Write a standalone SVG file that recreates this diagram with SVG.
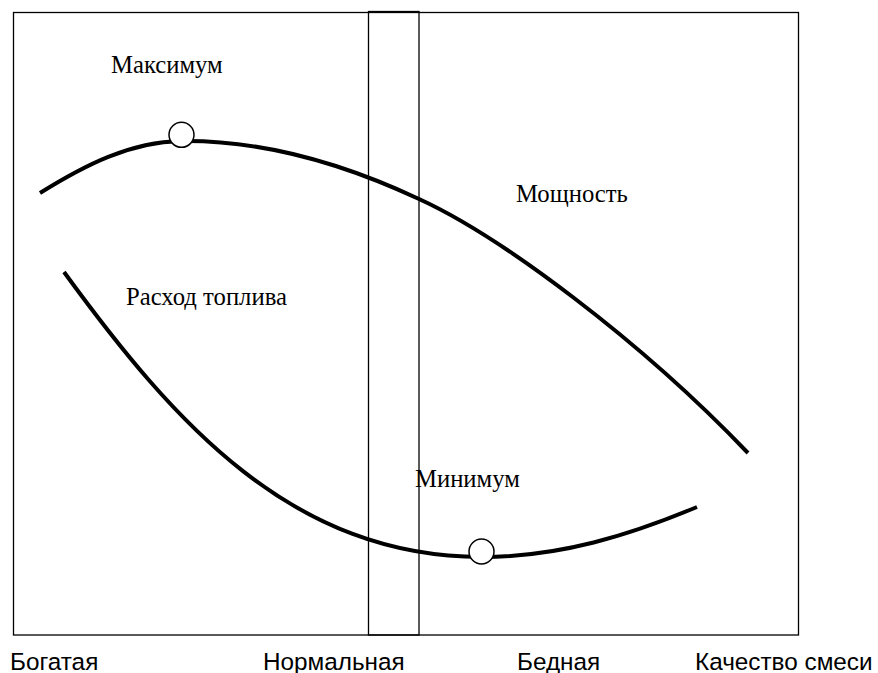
<svg xmlns="http://www.w3.org/2000/svg" width="878" height="673" viewBox="0 0 878 673">
<style>
.frame{fill:none;stroke:#000;stroke-width:1.3}
.curve{fill:none;stroke:#000;stroke-width:4}
.mark{fill:#fff;stroke:#000;stroke-width:1.5}
.lbl{font-family:"Liberation Serif","Times New Roman",serif;font-size:24.7px;fill:#000}
.axis{font-family:"Liberation Sans",Arial,sans-serif;font-size:24.3px;fill:#000}
</style>
<rect width="878" height="673" fill="#fff"/>
<g id="plot-frame">
<rect class="frame" x="13.5" y="12.5" width="785" height="622.5"/>
</g>
<g id="normal-band">
<rect class="frame" x="368.5" y="11.5" width="50.5" height="623.5"/>
</g>
<g id="connectors">
<path id="power-curve" class="curve" d="M40,193 C85,165 130,142 181,141 C260,140 340,162 419,199 C500,236 640,340 748,453"/>
<path id="fuel-curve" class="curve" d="M64,272 C174,423 292,557 482,557 C560,557 630,535 697,507"/>
</g>
<g id="max-point">
<circle class="mark" cx="181.5" cy="134.8" r="12.5"/>
<text class="lbl" x="111" y="73">Максимум</text>
</g>
<g id="min-point">
<circle class="mark" cx="481.5" cy="551.5" r="12.5"/>
<text class="lbl" x="415" y="487">Минимум</text>
</g>
<g id="power-label">
<text class="lbl" x="516" y="202">Мощность</text>
</g>
<g id="fuel-label">
<text class="lbl" x="126" y="305">Расход топлива</text>
</g>
<g id="axis-labels">
<text class="axis" x="10" y="670">Богатая</text>
<text class="axis" x="263" y="670">Нормальная</text>
<text class="axis" x="517" y="670">Бедная</text>
<text class="axis" x="695" y="670">Качество смеси</text>
</g>
</svg>
